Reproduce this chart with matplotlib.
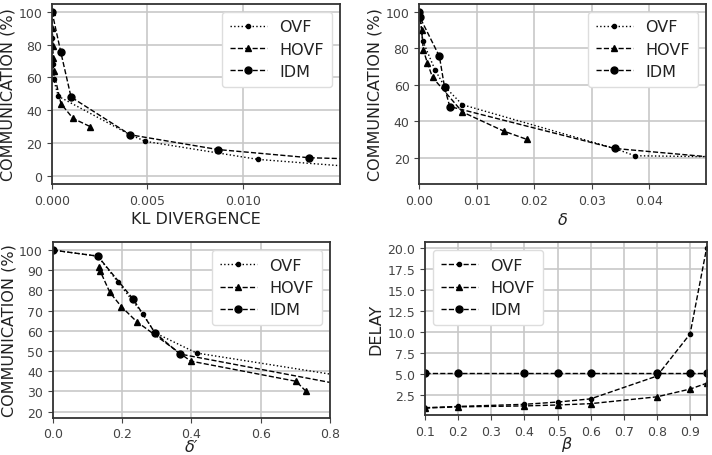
import matplotlib
matplotlib.use('Agg')
import matplotlib.pyplot as plt
import numpy as np

# communication vs KL divergence
kl_ovf_x = [0, 0.00002, 0.00004, 0.00008, 0.00033, 0.0041, 0.0049, 0.0108, 0.0175]
kl_ovf_y = [100, 84, 68, 59, 48.5, 25, 21, 10, 4]
kl_hovf_x = [0, 0.00002, 0.00004, 0.00006, 0.00008, 0.00047, 0.0011, 0.002]
kl_hovf_y = [100, 90, 79, 72, 64, 44, 35, 30]
kl_idm_x = [0, 0.00046, 0.001, 0.0041, 0.0087, 0.0135, 0.025]
kl_idm_y = [100, 75.5, 48, 25, 16, 11, 7.4]

# communication vs delta
d_ovf_x = [0, 0.0002, 0.0006, 0.00275, 0.0044, 0.0075, 0.034, 0.0375, 0.31]
d_ovf_y = [100, 97, 84, 68, 59, 49, 25, 21, 10]
d_hovf_x = [0, 0.0004, 0.0007, 0.0014, 0.0023, 0.0075, 0.0147, 0.0187]
d_hovf_y = [100, 90, 79, 72, 64, 45, 34.5, 30]
d_idm_x = [0, 0.0001, 0.0035, 0.0044, 0.0053, 0.034, 0.066]
d_idm_y = [100, 97, 75.5, 58.5, 48, 25, 16]

# communication vs delta'
dp_ovf_x = [0, 0.13, 0.189, 0.26, 0.295, 0.415, 1.3]
dp_ovf_y = [100, 97, 84, 68.4, 59, 49, 25]
dp_hovf_x = [0.135, 0.137, 0.165, 0.198, 0.242, 0.398, 0.702, 0.731]
dp_hovf_y = [91.5, 89.6, 79, 72, 64.6, 45, 35, 30]
dp_idm_x = [0, 0.13, 0.2326, 0.295, 0.367, 1.09]
dp_idm_y = [100, 97, 75.6, 59, 48.5, 25]

# delay vs beta
beta = [0.1, 0.2, 0.4, 0.5, 0.6, 0.8, 0.9, 0.95]
delay_ovf = [1.05, 1.2, 1.45, 1.72, 2.1, 4.8, 9.8, 20.0]
delay_hovf = [1.0, 1.15, 1.26, 1.37, 1.53, 2.34, 3.26, 3.95]
delay_idm = [5.2, 5.2, 5.2, 5.2, 5.2, 5.2, 5.2, 5.2]

LBL = 11.5
TCK = 9


def style_axes(ax):
    """grid, spines and tick colours shared by all four panels"""
    ax.grid(True, color='#c8c8c8', linewidth=1.2, zorder=0)
    ax.set_axisbelow(True)
    for s in ax.spines.values():
        s.set_color('#333333')
        s.set_linewidth(1.3)
    ax.tick_params(labelsize=TCK, colors='#444444', length=3.5)


def draw_three(ax, ovf, hovf, idm, ovf_ls=':'):
    ax.plot(ovf[0], ovf[1], linestyle=ovf_ls, color='black', linewidth=1.0,
            marker='o', markersize=3.0, label='OVF')
    ax.plot(hovf[0], hovf[1], linestyle='--', color='black', linewidth=1.0,
            marker='^', markersize=5.0, label='HOVF')
    ax.plot(idm[0], idm[1], linestyle='--', color='black', linewidth=1.0,
            marker='o', markersize=5.0, label='IDM')


fig = plt.figure(figsize=(7.12, 4.56), dpi=100)

ax1 = fig.add_axes([0.0730, 0.5943, 0.4045, 0.3958])
ax2 = fig.add_axes([0.5889, 0.5943, 0.4027, 0.3958])
# bottom row lifted a few pixels so the greek labels stay inside
ax3 = fig.add_axes([0.0740, 0.0820, 0.3895, 0.3851])
ax4 = fig.add_axes([0.5969, 0.0880, 0.3956, 0.3792])

draw_three(ax1, (kl_ovf_x, kl_ovf_y), (kl_hovf_x, kl_hovf_y), (kl_idm_x, kl_idm_y))
ax1.set_xlim(0, 0.0151)
ax1.set_ylim(-5, 105)
ax1.set_xticks([0, 0.005, 0.010])
ax1.set_xticklabels(['0.000', '0.005', '0.010'])
ax1.set_yticks([0, 20, 40, 60, 80, 100])
ax1.set_xlabel('KL DIVERGENCE', fontsize=LBL, color='#222222', labelpad=3)
ax1.set_ylabel('COMMUNICATION (%)', fontsize=LBL, color='#222222', labelpad=2)

draw_three(ax2, (d_ovf_x, d_ovf_y), (d_hovf_x, d_hovf_y), (d_idm_x, d_idm_y))
ax2.set_xlim(0, 0.0499)
ax2.set_ylim(5.5, 104.5)
ax2.set_xticks([0, 0.01, 0.02, 0.03, 0.04])
ax2.set_xticklabels(['0.00', '0.01', '0.02', '0.03', '0.04'])
ax2.set_yticks([20, 40, 60, 80, 100])
ax2.set_xlabel(r'$\delta$', fontsize=LBL, color='#222222', labelpad=3)
ax2.set_ylabel('COMMUNICATION (%)', fontsize=LBL, color='#222222', labelpad=2)

draw_three(ax3, (dp_ovf_x, dp_ovf_y), (dp_hovf_x, dp_hovf_y), (dp_idm_x, dp_idm_y))
ax3.set_xlim(0, 0.8)
ax3.set_ylim(17, 104)
ax3.set_xticks(np.arange(0, 0.81, 0.2))
ax3.set_xticklabels(['0.0', '0.2', '0.4', '0.6', '0.8'])
ax3.set_yticks(range(20, 101, 10))
ax3.set_xlabel('δ\u2032', fontsize=LBL, style='italic', color='#222222', labelpad=-1)
ax3.set_ylabel('COMMUNICATION (%)', fontsize=LBL, color='#222222', labelpad=2)

draw_three(ax4, (beta, delay_ovf), (beta, delay_hovf), (beta, delay_idm), ovf_ls='--')
ax4.set_xlim(0.1, 0.95)
ax4.set_ylim(0.2, 20.7)
ticks_b = [0.1, 0.2, 0.3, 0.4, 0.5, 0.6, 0.7, 0.8, 0.9]
ax4.set_xticks(ticks_b)
ax4.set_xticklabels(['%.1f' % t for t in ticks_b])
ticks_d = [2.5, 5.0, 7.5, 10.0, 12.5, 15.0, 17.5, 20.0]
ax4.set_yticks(ticks_d)
ax4.set_yticklabels(['%.1f' % t for t in ticks_d])
ax4.set_xlabel('β', fontsize=LBL, style='italic', color='#222222', labelpad=-1)
ax4.set_ylabel('DELAY', fontsize=LBL, color='#222222', labelpad=3)

for ax in [ax1, ax2, ax3, ax4]:
    style_axes(ax)

for ax, where in [(ax1, 'upper right'), (ax2, 'upper right'),
                  (ax3, 'upper right'), (ax4, 'upper left')]:
    leg = ax.legend(loc=where, fontsize=LBL, handlelength=2.3, labelspacing=0.45,
                    borderpad=0.5, framealpha=1.0)
    leg.get_frame().set_edgecolor('#dddddd')
    for t in leg.get_texts():
        t.set_color('#222222')

fig.savefig('out.png', dpi=100)
